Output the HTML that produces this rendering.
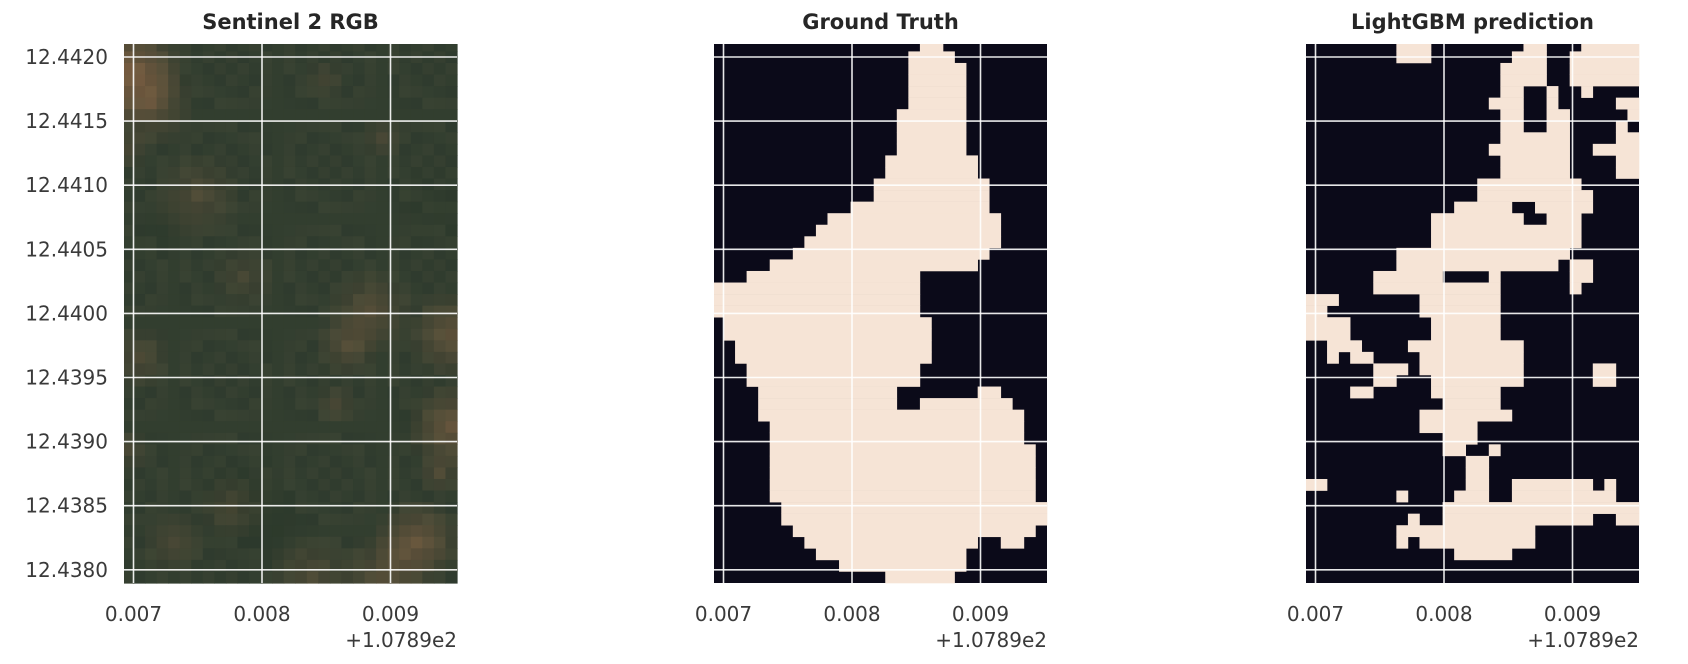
<!DOCTYPE html>
<html><head><meta charset="utf-8">
<style>
html,body{margin:0;padding:0;background:#fff;}
svg{display:block;font-family:"DejaVu Sans","Liberation Sans",sans-serif;}
</style></head>
<body>
<svg id="fig" width="1688" height="664" viewBox="0 0 1688 664" xmlns="http://www.w3.org/2000/svg"></svg>
<script>
// ---- data ----
const xTicks = [0.007, 0.008, 0.009];
const xTickLabels = ["0.007", "0.008", "0.009"];
const yTicks = [12.4420, 12.4415, 12.4410, 12.4405, 12.4400, 12.4395, 12.4390, 12.4385, 12.4380];
const yTickLabels = ["12.4420","12.4415","12.4410","12.4405","12.4400","12.4395","12.4390","12.4385","12.4380"];
const panelTitles = ["Sentinel 2 RGB", "Ground Truth", "LightGBM prediction"];
const offsetLabel = "+1.0789e2";
const gtRuns = [
 [[18,19]],[[17,20]],[[17,21]],[[17,21]],[[17,21]],[[17,21]],
 [[16,21]],[[16,21]],[[16,21]],[[16,21]],[[15,22]],[[15,22]],
 [[14,23]],[[14,23]],[[12,23]],[[10,24]],[[9,24]],[[8,24]],
 [[7,23]],[[5,22]],[[3,17]],[[0,17]],[[0,17]],[[0,17]],
 [[1,18]],[[1,18]],[[2,18]],[[2,18]],[[3,17]],[[3,17]],
 [[4,15],[23,24]],[[4,15],[18,25]],[[4,26]],[[5,26]],[[5,26]],
 [[5,27]],[[5,27]],[[5,27]],[[5,27]],[[5,27]],
 [[6,28]],[[6,28]],[[7,27]],[[8,22],[25,26]],[[9,21]],[[11,21]],[[15,20]]
];
const predRuns = [
 [[8,10],[19,20],[24,28]],[[8,10],[18,20],[23,28]],[[17,20],[23,28]],[[17,20],[23,28]],
 [[17,18],[21,21],[24,24]],[[16,18],[21,21],[27,28]],[[17,18],[21,22],[28,28]],[[17,18],[21,22],[27,27]],
 [[17,22],[27,28]],[[16,22],[25,28]],[[17,22],[27,28]],[[17,22],[27,28]],
 [[15,23]],[[15,24]],[[13,17],[20,24]],[[11,18],[21,23]],[[11,23]],[[11,23]],
 [[8,22]],[[8,21],[23,24]],[[6,11],[16,16],[23,24]],[[6,16],[23,23]],
 [[0,2],[10,16]],[[0,1],[10,16]],[[0,3],[11,16]],[[0,3],[11,16]],
 [[2,4],[9,18]],[[2,2],[4,5],[10,18]],[[6,8],[10,18],[25,26]],[[6,7],[11,18],[25,26]],
 [[4,5],[11,16]],[[12,16]],[[10,17]],[[10,14]],[[12,14]],
 [[12,13],[16,16]],[[14,15]],[[14,15]],[[0,1],[14,15],[18,24],[26,26]],[[8,8],[13,15],[18,26]],
 [[12,28]],[[9,9],[12,24],[27,28]],[[8,19]],[[8,8],[10,19]],[[13,17]],[],[]
];
const brownSpots = [[0,2,5,0.9],[2,5,4,0.5],[0,9,2,0.3],[6,13,4,0.35],[10,20,3,0.25],[21,23,4,0.45],[19,26,3,0.4],[18,31,2,0.3],[28,25,4,0.6],[28,33,4,0.7],[27,37,2,0.4],[25,43,4,0.7],[22,46,4,0.45],[16,46,4,0.35],[1,27,3,0.35],[0,35,2,0.3],[9,40,3,0.3],[4,43,3,0.3],[22,8,2,0.3],[17,3,2,0.25]];
const darkSpots = [[10,40,5,0.4],[13,42,4,0.35],[27,14,4,0.3],[25,33,3,0.3],[3,16,3,0.25]];

// ---- geometry ----
const NS="http://www.w3.org/2000/svg";
const svg=document.getElementById('fig');
const panelLefts=[124,714,1306];
const TOP=44, W=333, H=539, C0=9.5, CW=(W-C0)/28, R0=7.4, RH=(H-R0)/46;
function colX(L,j){return j===0?L:L+C0+(j-1)*CW;}
function colW(j){return j===0?C0:CW;}
function rowY(i){return i===0?TOP:TOP+R0+(i-1)*RH;}
function rowH(i){return i===0?R0:RH;}
function xs(L,v){return L+C0+(v-0.007)/0.001*128.5;}
function ys(v){return 57+(12.4420-v)/0.0005*64.1;}
function mk(tag,attrs,parent){const e=document.createElementNS(NS,tag);for(const k in attrs)e.setAttribute(k,attrs[k]);(parent||svg).appendChild(e);return e;}
function spot(list,i,j){let b=0;list.forEach(s=>{const d=Math.hypot(j-s[0],i-s[1]);b+=s[3]*Math.max(0,1-d/s[2]);});return Math.min(1,b);}

panelLefts.forEach((L,p)=>{
  const g=mk('g',{});
  
  
  if(p===0){
    for(let i=0;i<47;i++)for(let j=0;j<29;j++){
      const b=spot(brownSpots,i,j), dk=spot(darkSpots,i,j);
      const n=(((i*5+j*3+i*j)%9)/9-0.5)*10;
      const r=Math.round(52+n+b*72-dk*12), gg=Math.round(63+n*0.8+b*32-dk*8), bl=Math.round(48+n*0.5+b*18-dk*8);
      const c=mk('rect',{x:colX(L,j),y:rowY(i),width:colW(j)+0.6,height:rowH(i)+0.6,fill:`rgb(${r},${gg},${bl})`},g);
      
      
    }
  } else {
    const bg=mk('rect',{x:L,y:TOP,width:W,height:H,fill:'#0b0a19'},g);
    
    
    const runs=p===1?gtRuns:predRuns;
    runs.forEach((row,i)=>row.forEach(r=>{
      const x0=colX(L,r[0]), x1=colX(L,r[1])+colW(r[1]);
      const c=mk('rect',{x:x0,y:rowY(i),width:x1-x0+0.3,height:rowH(i)+0.3,fill:'#f6e4d6'},g);
      
      
    }));
  }
  xTicks.forEach(v=>{const l=mk('line',{x1:xs(L,v),x2:xs(L,v),y1:TOP,y2:TOP+H,stroke:'#fff','stroke-width':1.6,'stroke-opacity':0.9},g);
    });
  yTicks.forEach(v=>{const l=mk('line',{x1:L,x2:L+W,y1:ys(v),y2:ys(v),stroke:'#fff','stroke-width':1.6,'stroke-opacity':0.9},g);
    });
  const t=mk('text',{x:L+W/2,y:29,'text-anchor':'middle','font-size':21,'font-weight':'bold',fill:'#262626'},g);
  t.textContent=panelTitles[p];
  
  xTicks.forEach((v,k)=>{const tx=mk('text',{x:xs(L,v),y:621,'text-anchor':'middle','font-size':20,fill:'#3a3a3a'},g);
    tx.textContent=xTickLabels[k];});
  const off=mk('text',{x:L+W,y:647,'text-anchor':'end','font-size':20,fill:'#3a3a3a'},g);
  off.textContent=offsetLabel;
  if(p===0){
    yTicks.forEach((v,k)=>{const ty=mk('text',{x:108,y:ys(v)+7,'text-anchor':'end','font-size':20,fill:'#3a3a3a'},g);
      ty.textContent=yTickLabels[k];});
  }
});
</script>
</body></html>
